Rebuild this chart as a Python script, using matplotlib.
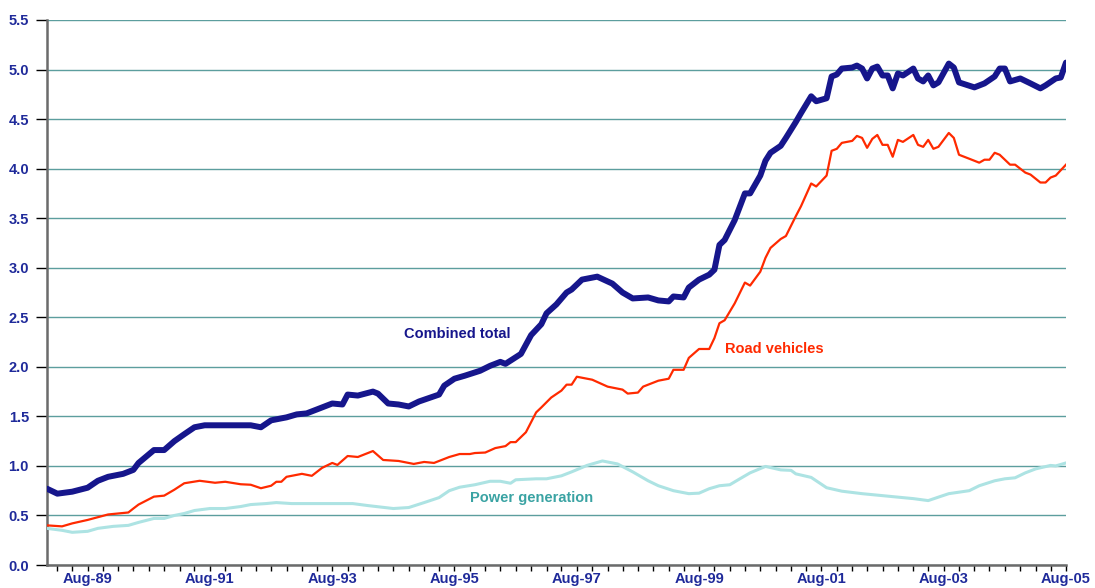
import matplotlib
matplotlib.use("Agg")
import matplotlib.pyplot as plt
import matplotlib.dates as mdates
from matplotlib.ticker import FixedLocator, FormatStrFormatter
import pandas as pd

plt.rcParams['font.family'] = ['Liberation Sans', 'DejaVu Sans']
plt.rcParams['font.weight'] = 'bold'

# combined total (monthly readings)
combined_dates = [
    '1988-12', '1989-02', '1989-05', '1989-08', '1989-10', '1989-12', '1990-03', '1990-05',
    '1990-06', '1990-09', '1990-11', '1991-01', '1991-03', '1991-05', '1991-07', '1991-11',
    '1992-02', '1992-04', '1992-06', '1992-08', '1992-11', '1993-01', '1993-03', '1993-06',
    '1993-08', '1993-10', '1993-11', '1994-01', '1994-04', '1994-05', '1994-07', '1994-09',
    '1994-11', '1995-01', '1995-05', '1995-06', '1995-08', '1995-10', '1996-01', '1996-03',
    '1996-05', '1996-06', '1996-09', '1996-11', '1997-01', '1997-02', '1997-04', '1997-06',
    '1997-07', '1997-09', '1997-12', '1998-03', '1998-05', '1998-07', '1998-10', '1998-12',
    '1999-02', '1999-03', '1999-05', '1999-06', '1999-08', '1999-10', '1999-11', '1999-12',
    '2000-01', '2000-03', '2000-05', '2000-06', '2000-08', '2000-09', '2000-10', '2000-12',
    '2001-01', '2001-03', '2001-04', '2001-06', '2001-07', '2001-09', '2001-10', '2001-11',
    '2001-12', '2002-02', '2002-03', '2002-04', '2002-05', '2002-06', '2002-07', '2002-08',
    '2002-09', '2002-10', '2002-11', '2002-12', '2003-02', '2003-03', '2003-04', '2003-05',
    '2003-06', '2003-07', '2003-09', '2003-10', '2003-11', '2004-02', '2004-04', '2004-06',
    '2004-07', '2004-08', '2004-09', '2004-11', '2005-01', '2005-03', '2005-04', '2005-06',
    '2005-07', '2005-08']
combined = [
    0.77, 0.72, 0.74, 0.78, 0.85, 0.89, 0.92, 0.96,
    1.03, 1.16, 1.16, 1.25, 1.32, 1.39, 1.41, 1.41,
    1.41, 1.41, 1.39, 1.46, 1.49, 1.52, 1.53, 1.59,
    1.63, 1.62, 1.72, 1.71, 1.75, 1.73, 1.63, 1.62,
    1.60, 1.65, 1.72, 1.81, 1.88, 1.91, 1.96, 2.01,
    2.05, 2.03, 2.13, 2.32, 2.43, 2.54, 2.63, 2.75,
    2.78, 2.88, 2.91, 2.84, 2.75, 2.69, 2.70, 2.67,
    2.66, 2.71, 2.70, 2.80, 2.88, 2.93, 2.98, 3.23,
    3.28, 3.48, 3.75, 3.75, 3.93, 4.08, 4.16, 4.23,
    4.31, 4.47, 4.56, 4.73, 4.68, 4.71, 4.93, 4.95,
    5.01, 5.02, 5.04, 5.01, 4.91, 5.01, 5.03, 4.94,
    4.94, 4.81, 4.96, 4.94, 5.01, 4.91, 4.88, 4.94,
    4.84, 4.87, 5.06, 5.02, 4.87, 4.82, 4.86, 4.93,
    5.01, 5.01, 4.88, 4.91, 4.86, 4.81, 4.84, 4.91,
    4.92, 5.07]

# road vehicles
road_dates = [
    '1988-12', '1989-03', '1989-05', '1989-08', '1989-12', '1990-04', '1990-05', '1990-06',
    '1990-09', '1990-11', '1991-01', '1991-03', '1991-06', '1991-09', '1991-11', '1992-02',
    '1992-04', '1992-06', '1992-08', '1992-09', '1992-10', '1992-11', '1993-02', '1993-04',
    '1993-06', '1993-08', '1993-09', '1993-11', '1994-01', '1994-04', '1994-06', '1994-09',
    '1994-12', '1995-02', '1995-04', '1995-07', '1995-09', '1995-11', '1995-12', '1996-02',
    '1996-04', '1996-06', '1996-07', '1996-08', '1996-10', '1996-12', '1997-01', '1997-03',
    '1997-05', '1997-06', '1997-07', '1997-08', '1997-11', '1998-02', '1998-05', '1998-06',
    '1998-08', '1998-09', '1998-12', '1999-02', '1999-03', '1999-05', '1999-06', '1999-08',
    '1999-10', '1999-11', '1999-12', '2000-01', '2000-03', '2000-05', '2000-06', '2000-08',
    '2000-09', '2000-10', '2000-12', '2001-01', '2001-03', '2001-04', '2001-06', '2001-07',
    '2001-09', '2001-10', '2001-11', '2001-12', '2002-02', '2002-03', '2002-04', '2002-05',
    '2002-06', '2002-07', '2002-08', '2002-09', '2002-10', '2002-11', '2002-12', '2003-02',
    '2003-03', '2003-04', '2003-05', '2003-06', '2003-07', '2003-09', '2003-10', '2003-11',
    '2004-01', '2004-03', '2004-04', '2004-05', '2004-06', '2004-07', '2004-09', '2004-10',
    '2004-12', '2005-01', '2005-03', '2005-04', '2005-05', '2005-06', '2005-08']
road = [
    0.40, 0.39, 0.42, 0.455, 0.51, 0.53, 0.57, 0.61,
    0.69, 0.70, 0.76, 0.825, 0.85, 0.83, 0.84, 0.815,
    0.81, 0.775, 0.80, 0.84, 0.84, 0.89, 0.92, 0.90,
    0.98, 1.03, 1.01, 1.10, 1.09, 1.15, 1.06, 1.05,
    1.02, 1.04, 1.03, 1.09, 1.12, 1.12, 1.13, 1.135,
    1.18, 1.20, 1.24, 1.24, 1.34, 1.54, 1.59, 1.69,
    1.76, 1.82, 1.82, 1.90, 1.87, 1.80, 1.77, 1.73,
    1.74, 1.80, 1.86, 1.88, 1.97, 1.97, 2.09, 2.18,
    2.18, 2.29, 2.44, 2.47, 2.64, 2.85, 2.82, 2.96,
    3.10, 3.20, 3.29, 3.32, 3.52, 3.62, 3.85, 3.82,
    3.93, 4.18, 4.20, 4.26, 4.28, 4.33, 4.31, 4.21,
    4.30, 4.34, 4.24, 4.24, 4.12, 4.29, 4.27, 4.34,
    4.24, 4.22, 4.29, 4.20, 4.22, 4.36, 4.31, 4.14,
    4.10, 4.06, 4.09, 4.09, 4.16, 4.14, 4.04, 4.04,
    3.96, 3.94, 3.86, 3.86, 3.91, 3.93, 4.04]

# power generation
power_dates = [
    '1988-12', '1989-03', '1989-05', '1989-08', '1989-10', '1990-01', '1990-04', '1990-06',
    '1990-09', '1990-11', '1991-01', '1991-03', '1991-05', '1991-08', '1991-11', '1992-02',
    '1992-04', '1992-07', '1992-09', '1992-12', '1993-03', '1993-05', '1993-12', '1994-03',
    '1994-08', '1994-11', '1995-02', '1995-05', '1995-07', '1995-09', '1995-12', '1996-03',
    '1996-05', '1996-07', '1996-08', '1996-12', '1997-02', '1997-05', '1997-07', '1997-10',
    '1998-01', '1998-04', '1998-07', '1998-10', '1998-12', '1999-03', '1999-06', '1999-08',
    '1999-10', '1999-12', '2000-02', '2000-04', '2000-06', '2000-09', '2000-12', '2001-02',
    '2001-03', '2001-06', '2001-07', '2001-09', '2001-12', '2002-04', '2002-08', '2002-12',
    '2003-02', '2003-05', '2003-07', '2003-09', '2004-01', '2004-03', '2004-06', '2004-08',
    '2004-10', '2004-12', '2005-02', '2005-05', '2005-06', '2005-08']
power = [
    0.37, 0.35, 0.33, 0.34, 0.37, 0.39, 0.40, 0.43,
    0.47, 0.47, 0.50, 0.52, 0.55, 0.57, 0.57, 0.59,
    0.61, 0.62, 0.63, 0.62, 0.62, 0.62, 0.62, 0.60,
    0.57, 0.58, 0.63, 0.68, 0.75, 0.785, 0.81, 0.845,
    0.845, 0.825, 0.86, 0.87, 0.87, 0.90, 0.94, 1.005,
    1.05, 1.02, 0.94, 0.85, 0.80, 0.75, 0.72, 0.725,
    0.77, 0.80, 0.81, 0.87, 0.93, 0.995, 0.96, 0.955,
    0.92, 0.884, 0.85, 0.78, 0.745, 0.72, 0.70, 0.68,
    0.67, 0.65, 0.685, 0.72, 0.75, 0.80, 0.85, 0.87,
    0.88, 0.93, 0.97, 1.005, 1.00, 1.03]

NAVY = '#16168c'
RED = '#ff2a00'
CYAN = '#ade3e3'
TICK_COL = '#1f2a9a'

fig = plt.figure(figsize=(10.95, 5.88), dpi=100)
ax = fig.add_axes([0.0429, 0.0391, 0.9306, 0.9269])

def to_dt(lst):
    return pd.to_datetime(lst, format='%Y-%m')

ax.plot(to_dt(power_dates), power, color=CYAN, lw=2.2, zorder=3)
ax.plot(to_dt(road_dates), road, color=RED, lw=1.6, zorder=4)
ax.plot(to_dt(combined_dates), combined, color=NAVY, lw=4.3, zorder=5,
        solid_joinstyle='round', solid_capstyle='round')

ax.set_ylim(0, 5.5)
ax.set_yticks([i * 0.5 for i in range(12)])
ax.yaxis.set_major_formatter(FormatStrFormatter('%.1f'))
ax.set_xlim(pd.Timestamp('1988-12-01'), pd.Timestamp('2005-08-01'))

major = pd.date_range('1989-08-01', '2005-08-01', freq='24MS')
ax.xaxis.set_major_locator(FixedLocator(mdates.date2num(major)))
ax.xaxis.set_minor_locator(mdates.MonthLocator(bymonth=[2, 5, 8, 11]))
ax.xaxis.set_major_formatter(mdates.DateFormatter('%b-%y'))

ax.grid(axis='y', color='#5c9e9e', lw=1.0, zorder=1)
ax.set_axisbelow(True)

for s in ['top', 'right']:
    ax.spines[s].set_visible(False)
ax.spines['left'].set_color('#6b6b6b')
ax.spines['left'].set_linewidth(1.8)
ax.spines['bottom'].set_color('#6b6b6b')
ax.spines['bottom'].set_linewidth(1.8)

ax.tick_params(axis='y', length=8, width=1, color='black', pad=5,
               labelsize=10.5, labelcolor=TICK_COL)
ax.tick_params(axis='x', which='both', length=4.5, width=1, color='black',
               pad=0.5, labelsize=10.5, labelcolor=TICK_COL)

ax.text(pd.Timestamp('1994-10-01'), 2.33, 'Combined total', color=NAVY,
        fontsize=10.5, fontweight='bold', va='center')
ax.text(pd.Timestamp('2000-01-01'), 2.18, 'Road vehicles', color=RED,
        fontsize=10.5, fontweight='bold', va='center')
ax.text(pd.Timestamp('1995-11-01'), 0.675, 'Power generation', color='#3aa3a3',
        fontsize=10.5, fontweight='bold', va='center')

fig.savefig('out.png', dpi=100)
